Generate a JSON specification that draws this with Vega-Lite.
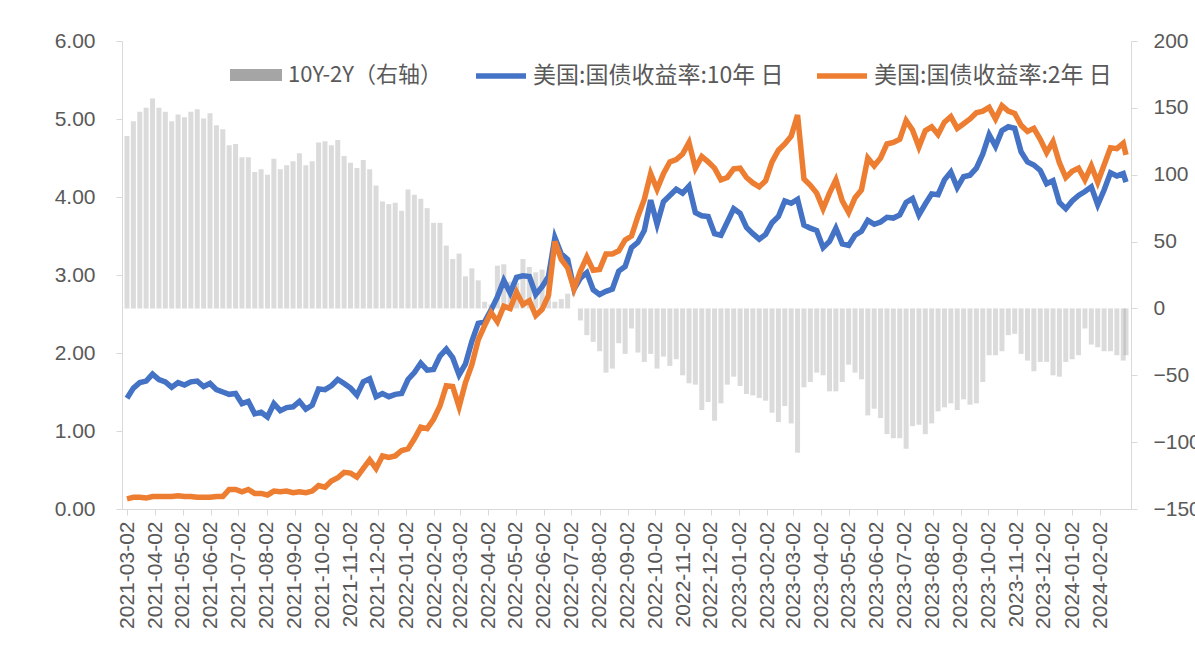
{
  "$schema": "https://vega.github.io/schema/vega-lite/v6.json",
  "width": 1009,
  "height": 468,
  "autosize": {"type": "none"},
  "padding": {"left": 122, "top": 41, "right": 64, "bottom": 144},
  "background": "white",
  "config": {
    "view": {"stroke": null},
    "font": "Liberation Sans",
    "axis": {"grid": false, "domainColor": "#d9d9d9", "tickColor": "#d9d9d9", "labelColor": "#595959", "tickSize": 6, "labelFontSize": 21, "labelFont": "Liberation Sans"}
  },
  "data": {"values": [
    {"d": "2021-03-02", "t10": 1.42, "t2": 0.13, "spread": 129},
    {"d": "2021-03-09", "t10": 1.55, "t2": 0.15, "spread": 140},
    {"d": "2021-03-16", "t10": 1.62, "t2": 0.15, "spread": 147},
    {"d": "2021-03-23", "t10": 1.64, "t2": 0.14, "spread": 150},
    {"d": "2021-03-30", "t10": 1.73, "t2": 0.16, "spread": 157},
    {"d": "2021-04-06", "t10": 1.66, "t2": 0.16, "spread": 150},
    {"d": "2021-04-13", "t10": 1.63, "t2": 0.16, "spread": 147},
    {"d": "2021-04-20", "t10": 1.56, "t2": 0.16, "spread": 140},
    {"d": "2021-04-27", "t10": 1.62, "t2": 0.17, "spread": 145},
    {"d": "2021-05-04", "t10": 1.59, "t2": 0.16, "spread": 143},
    {"d": "2021-05-11", "t10": 1.63, "t2": 0.16, "spread": 147},
    {"d": "2021-05-18", "t10": 1.64, "t2": 0.15, "spread": 149},
    {"d": "2021-05-25", "t10": 1.57, "t2": 0.15, "spread": 142},
    {"d": "2021-06-01", "t10": 1.61, "t2": 0.15, "spread": 146},
    {"d": "2021-06-08", "t10": 1.53, "t2": 0.16, "spread": 137},
    {"d": "2021-06-15", "t10": 1.50, "t2": 0.16, "spread": 134},
    {"d": "2021-06-22", "t10": 1.47, "t2": 0.25, "spread": 122},
    {"d": "2021-06-29", "t10": 1.48, "t2": 0.25, "spread": 123},
    {"d": "2021-07-06", "t10": 1.35, "t2": 0.22, "spread": 113},
    {"d": "2021-07-13", "t10": 1.38, "t2": 0.25, "spread": 113},
    {"d": "2021-07-20", "t10": 1.22, "t2": 0.20, "spread": 102},
    {"d": "2021-07-27", "t10": 1.24, "t2": 0.20, "spread": 104},
    {"d": "2021-08-03", "t10": 1.18, "t2": 0.18, "spread": 100},
    {"d": "2021-08-10", "t10": 1.35, "t2": 0.23, "spread": 112},
    {"d": "2021-08-17", "t10": 1.26, "t2": 0.22, "spread": 104},
    {"d": "2021-08-24", "t10": 1.30, "t2": 0.23, "spread": 107},
    {"d": "2021-08-31", "t10": 1.31, "t2": 0.21, "spread": 110},
    {"d": "2021-09-07", "t10": 1.38, "t2": 0.22, "spread": 116},
    {"d": "2021-09-14", "t10": 1.28, "t2": 0.21, "spread": 107},
    {"d": "2021-09-21", "t10": 1.33, "t2": 0.23, "spread": 110},
    {"d": "2021-09-28", "t10": 1.54, "t2": 0.30, "spread": 124},
    {"d": "2021-10-05", "t10": 1.53, "t2": 0.28, "spread": 125},
    {"d": "2021-10-12", "t10": 1.58, "t2": 0.36, "spread": 122},
    {"d": "2021-10-19", "t10": 1.66, "t2": 0.40, "spread": 126},
    {"d": "2021-10-26", "t10": 1.61, "t2": 0.47, "spread": 114},
    {"d": "2021-11-02", "t10": 1.55, "t2": 0.46, "spread": 109},
    {"d": "2021-11-09", "t10": 1.46, "t2": 0.41, "spread": 105},
    {"d": "2021-11-16", "t10": 1.63, "t2": 0.52, "spread": 111},
    {"d": "2021-11-23", "t10": 1.67, "t2": 0.63, "spread": 104},
    {"d": "2021-11-30", "t10": 1.44, "t2": 0.52, "spread": 92},
    {"d": "2021-12-07", "t10": 1.48, "t2": 0.68, "spread": 80},
    {"d": "2021-12-14", "t10": 1.44, "t2": 0.66, "spread": 78},
    {"d": "2021-12-21", "t10": 1.47, "t2": 0.68, "spread": 79},
    {"d": "2021-12-28", "t10": 1.48, "t2": 0.75, "spread": 73},
    {"d": "2022-01-04", "t10": 1.66, "t2": 0.77, "spread": 89},
    {"d": "2022-01-11", "t10": 1.75, "t2": 0.90, "spread": 85},
    {"d": "2022-01-18", "t10": 1.87, "t2": 1.05, "spread": 82},
    {"d": "2022-01-25", "t10": 1.78, "t2": 1.03, "spread": 75},
    {"d": "2022-02-01", "t10": 1.79, "t2": 1.15, "spread": 64},
    {"d": "2022-02-08", "t10": 1.96, "t2": 1.32, "spread": 64},
    {"d": "2022-02-15", "t10": 2.05, "t2": 1.58, "spread": 47},
    {"d": "2022-02-22", "t10": 1.94, "t2": 1.57, "spread": 37},
    {"d": "2022-03-01", "t10": 1.72, "t2": 1.31, "spread": 41},
    {"d": "2022-03-08", "t10": 1.86, "t2": 1.62, "spread": 24},
    {"d": "2022-03-15", "t10": 2.15, "t2": 1.85, "spread": 30},
    {"d": "2022-03-22", "t10": 2.38, "t2": 2.17, "spread": 21},
    {"d": "2022-03-29", "t10": 2.40, "t2": 2.35, "spread": 5},
    {"d": "2022-04-05", "t10": 2.55, "t2": 2.52, "spread": 3},
    {"d": "2022-04-12", "t10": 2.72, "t2": 2.40, "spread": 32},
    {"d": "2022-04-19", "t10": 2.93, "t2": 2.60, "spread": 33},
    {"d": "2022-04-26", "t10": 2.77, "t2": 2.57, "spread": 20},
    {"d": "2022-05-03", "t10": 2.97, "t2": 2.78, "spread": 19},
    {"d": "2022-05-10", "t10": 2.99, "t2": 2.62, "spread": 37},
    {"d": "2022-05-17", "t10": 2.98, "t2": 2.67, "spread": 31},
    {"d": "2022-05-24", "t10": 2.75, "t2": 2.48, "spread": 27},
    {"d": "2022-05-31", "t10": 2.85, "t2": 2.56, "spread": 29},
    {"d": "2022-06-07", "t10": 2.98, "t2": 2.74, "spread": 24},
    {"d": "2022-06-14", "t10": 3.48, "t2": 3.43, "spread": 5},
    {"d": "2022-06-21", "t10": 3.27, "t2": 3.20, "spread": 7},
    {"d": "2022-06-28", "t10": 3.20, "t2": 3.09, "spread": 11},
    {"d": "2022-07-05", "t10": 2.82, "t2": 2.82, "spread": 0},
    {"d": "2022-07-12", "t10": 2.96, "t2": 3.05, "spread": -9},
    {"d": "2022-07-19", "t10": 3.03, "t2": 3.23, "spread": -20},
    {"d": "2022-07-26", "t10": 2.81, "t2": 3.06, "spread": -25},
    {"d": "2022-08-02", "t10": 2.75, "t2": 3.07, "spread": -32},
    {"d": "2022-08-09", "t10": 2.79, "t2": 3.27, "spread": -48},
    {"d": "2022-08-16", "t10": 2.82, "t2": 3.27, "spread": -45},
    {"d": "2022-08-23", "t10": 3.05, "t2": 3.31, "spread": -26},
    {"d": "2022-08-30", "t10": 3.11, "t2": 3.45, "spread": -34},
    {"d": "2022-09-06", "t10": 3.35, "t2": 3.50, "spread": -15},
    {"d": "2022-09-13", "t10": 3.42, "t2": 3.75, "spread": -33},
    {"d": "2022-09-20", "t10": 3.57, "t2": 3.97, "spread": -40},
    {"d": "2022-09-27", "t10": 3.96, "t2": 4.30, "spread": -34},
    {"d": "2022-10-04", "t10": 3.65, "t2": 4.10, "spread": -45},
    {"d": "2022-10-11", "t10": 3.94, "t2": 4.30, "spread": -36},
    {"d": "2022-10-18", "t10": 4.02, "t2": 4.45, "spread": -43},
    {"d": "2022-10-25", "t10": 4.10, "t2": 4.48, "spread": -38},
    {"d": "2022-11-01", "t10": 4.05, "t2": 4.55, "spread": -50},
    {"d": "2022-11-08", "t10": 4.14, "t2": 4.70, "spread": -56},
    {"d": "2022-11-15", "t10": 3.80, "t2": 4.37, "spread": -57},
    {"d": "2022-11-22", "t10": 3.76, "t2": 4.52, "spread": -76},
    {"d": "2022-11-29", "t10": 3.75, "t2": 4.45, "spread": -70},
    {"d": "2022-12-06", "t10": 3.53, "t2": 4.37, "spread": -84},
    {"d": "2022-12-13", "t10": 3.51, "t2": 4.22, "spread": -71},
    {"d": "2022-12-20", "t10": 3.68, "t2": 4.25, "spread": -57},
    {"d": "2022-12-27", "t10": 3.85, "t2": 4.36, "spread": -51},
    {"d": "2023-01-03", "t10": 3.79, "t2": 4.37, "spread": -58},
    {"d": "2023-01-10", "t10": 3.61, "t2": 4.25, "spread": -64},
    {"d": "2023-01-17", "t10": 3.53, "t2": 4.18, "spread": -65},
    {"d": "2023-01-24", "t10": 3.46, "t2": 4.13, "spread": -67},
    {"d": "2023-01-31", "t10": 3.52, "t2": 4.21, "spread": -69},
    {"d": "2023-02-07", "t10": 3.67, "t2": 4.45, "spread": -78},
    {"d": "2023-02-14", "t10": 3.75, "t2": 4.60, "spread": -85},
    {"d": "2023-02-21", "t10": 3.95, "t2": 4.68, "spread": -73},
    {"d": "2023-02-28", "t10": 3.92, "t2": 4.78, "spread": -86},
    {"d": "2023-03-07", "t10": 3.97, "t2": 5.05, "spread": -108},
    {"d": "2023-03-14", "t10": 3.64, "t2": 4.23, "spread": -59},
    {"d": "2023-03-21", "t10": 3.60, "t2": 4.15, "spread": -55},
    {"d": "2023-03-28", "t10": 3.57, "t2": 4.05, "spread": -48},
    {"d": "2023-04-04", "t10": 3.35, "t2": 3.85, "spread": -50},
    {"d": "2023-04-11", "t10": 3.43, "t2": 4.05, "spread": -62},
    {"d": "2023-04-18", "t10": 3.60, "t2": 4.22, "spread": -62},
    {"d": "2023-04-25", "t10": 3.40, "t2": 3.95, "spread": -55},
    {"d": "2023-05-02", "t10": 3.38, "t2": 3.80, "spread": -42},
    {"d": "2023-05-09", "t10": 3.51, "t2": 3.99, "spread": -48},
    {"d": "2023-05-16", "t10": 3.56, "t2": 4.09, "spread": -53},
    {"d": "2023-05-23", "t10": 3.70, "t2": 4.50, "spread": -80},
    {"d": "2023-05-30", "t10": 3.65, "t2": 4.40, "spread": -75},
    {"d": "2023-06-06", "t10": 3.68, "t2": 4.50, "spread": -82},
    {"d": "2023-06-13", "t10": 3.74, "t2": 4.68, "spread": -94},
    {"d": "2023-06-20", "t10": 3.73, "t2": 4.70, "spread": -97},
    {"d": "2023-06-27", "t10": 3.77, "t2": 4.74, "spread": -97},
    {"d": "2023-07-04", "t10": 3.93, "t2": 4.98, "spread": -105},
    {"d": "2023-07-11", "t10": 3.98, "t2": 4.86, "spread": -88},
    {"d": "2023-07-18", "t10": 3.77, "t2": 4.64, "spread": -87},
    {"d": "2023-07-25", "t10": 3.91, "t2": 4.85, "spread": -94},
    {"d": "2023-08-01", "t10": 4.04, "t2": 4.90, "spread": -86},
    {"d": "2023-08-08", "t10": 4.03, "t2": 4.80, "spread": -77},
    {"d": "2023-08-15", "t10": 4.22, "t2": 4.96, "spread": -74},
    {"d": "2023-08-22", "t10": 4.32, "t2": 5.03, "spread": -71},
    {"d": "2023-08-29", "t10": 4.12, "t2": 4.88, "spread": -76},
    {"d": "2023-09-05", "t10": 4.26, "t2": 4.94, "spread": -68},
    {"d": "2023-09-12", "t10": 4.28, "t2": 5.00, "spread": -72},
    {"d": "2023-09-19", "t10": 4.37, "t2": 5.08, "spread": -71},
    {"d": "2023-09-26", "t10": 4.55, "t2": 5.10, "spread": -55},
    {"d": "2023-10-03", "t10": 4.80, "t2": 5.15, "spread": -35},
    {"d": "2023-10-10", "t10": 4.65, "t2": 5.00, "spread": -35},
    {"d": "2023-10-17", "t10": 4.85, "t2": 5.17, "spread": -32},
    {"d": "2023-10-24", "t10": 4.90, "t2": 5.10, "spread": -20},
    {"d": "2023-10-31", "t10": 4.88, "t2": 5.07, "spread": -19},
    {"d": "2023-11-07", "t10": 4.58, "t2": 4.92, "spread": -34},
    {"d": "2023-11-14", "t10": 4.45, "t2": 4.84, "spread": -39},
    {"d": "2023-11-21", "t10": 4.41, "t2": 4.88, "spread": -47},
    {"d": "2023-11-28", "t10": 4.34, "t2": 4.74, "spread": -40},
    {"d": "2023-12-05", "t10": 4.17, "t2": 4.57, "spread": -40},
    {"d": "2023-12-12", "t10": 4.21, "t2": 4.71, "spread": -50},
    {"d": "2023-12-19", "t10": 3.93, "t2": 4.44, "spread": -51},
    {"d": "2023-12-26", "t10": 3.85, "t2": 4.25, "spread": -40},
    {"d": "2024-01-02", "t10": 3.95, "t2": 4.33, "spread": -38},
    {"d": "2024-01-09", "t10": 4.02, "t2": 4.37, "spread": -35},
    {"d": "2024-01-16", "t10": 4.07, "t2": 4.22, "spread": -15},
    {"d": "2024-01-23", "t10": 4.13, "t2": 4.40, "spread": -27},
    {"d": "2024-01-30", "t10": 3.90, "t2": 4.19, "spread": -29},
    {"d": "2024-02-06", "t10": 4.09, "t2": 4.41, "spread": -32},
    {"d": "2024-02-13", "t10": 4.31, "t2": 4.63, "spread": -32},
    {"d": "2024-02-20", "t10": 4.27, "t2": 4.62, "spread": -35},
    {"d": "2024-02-27", "t10": 4.30, "t2": 4.69, "spread": -39},
    {"d": "2024-03-01", "t10": 4.19, "t2": 4.54, "spread": -35}
  ]},
  "encoding": {
    "x": {
      "field": "d", "type": "temporal",
      "scale": {"type": "utc", "domain": [{"year": 2021, "month": 3, "date": 2, "utc": true}, {"year": 2024, "month": 3, "date": 1, "utc": true}]},
      "axis": {
        "title": null, "format": "%Y-%m-%d", "labelAngle": 270, "labelFontSize": 21, "labelPadding": 6, "labelOverlap": false, "labelFlush": false,
        "values": [
          {"year": 2021, "month": 3, "date": 2, "utc": true}, {"year": 2021, "month": 4, "date": 2, "utc": true}, {"year": 2021, "month": 5, "date": 2, "utc": true},
          {"year": 2021, "month": 6, "date": 2, "utc": true}, {"year": 2021, "month": 7, "date": 2, "utc": true}, {"year": 2021, "month": 8, "date": 2, "utc": true},
          {"year": 2021, "month": 9, "date": 2, "utc": true}, {"year": 2021, "month": 10, "date": 2, "utc": true}, {"year": 2021, "month": 11, "date": 2, "utc": true},
          {"year": 2021, "month": 12, "date": 2, "utc": true}, {"year": 2022, "month": 1, "date": 2, "utc": true}, {"year": 2022, "month": 2, "date": 2, "utc": true},
          {"year": 2022, "month": 3, "date": 2, "utc": true}, {"year": 2022, "month": 4, "date": 2, "utc": true}, {"year": 2022, "month": 5, "date": 2, "utc": true},
          {"year": 2022, "month": 6, "date": 2, "utc": true}, {"year": 2022, "month": 7, "date": 2, "utc": true}, {"year": 2022, "month": 8, "date": 2, "utc": true},
          {"year": 2022, "month": 9, "date": 2, "utc": true}, {"year": 2022, "month": 10, "date": 2, "utc": true}, {"year": 2022, "month": 11, "date": 2, "utc": true},
          {"year": 2022, "month": 12, "date": 2, "utc": true}, {"year": 2023, "month": 1, "date": 2, "utc": true}, {"year": 2023, "month": 2, "date": 2, "utc": true},
          {"year": 2023, "month": 3, "date": 2, "utc": true}, {"year": 2023, "month": 4, "date": 2, "utc": true}, {"year": 2023, "month": 5, "date": 2, "utc": true},
          {"year": 2023, "month": 6, "date": 2, "utc": true}, {"year": 2023, "month": 7, "date": 2, "utc": true}, {"year": 2023, "month": 8, "date": 2, "utc": true},
          {"year": 2023, "month": 9, "date": 2, "utc": true}, {"year": 2023, "month": 10, "date": 2, "utc": true}, {"year": 2023, "month": 11, "date": 2, "utc": true},
          {"year": 2023, "month": 12, "date": 2, "utc": true}, {"year": 2024, "month": 1, "date": 2, "utc": true}, {"year": 2024, "month": 2, "date": 2, "utc": true}
        ]
      }
    }
  },
  "layer": [
    {
      "mark": {"type": "bar", "size": 5, "opacity": 0.4, "clip": true},
      "encoding": {
        "y": {"field": "spread", "type": "quantitative", "scale": {"domain": [-150, 200], "nice": false},
          "axis": {"orient": "right", "title": null, "values": [-150, -100, -50, 0, 50, 100, 150, 200], "labelPadding": 16}},
        "fill": {"datum": "10Y-2Y（右轴）", "type": "nominal", "scale": {"domain": ["10Y-2Y（右轴）"], "range": ["#a5a5a5"]},
          "legend": {"orient": "none", "legendX": 108, "legendY": 8, "title": null, "symbolType": "M-1,-0.23H1V0.23H-1Z", "symbolSize": 2704, "symbolOpacity": 1, "symbolStrokeWidth": 0,
            "labelFont": "Noto Sans CJK SC", "labelFontSize": 22, "labelColor": "#595959", "labelOffset": 6, "labelLimit": 500}}
      }
    },
    {
      "layer": [
        {
          "mark": {"type": "line", "strokeWidth": 5.5, "clip": true},
          "encoding": {
            "y": {"field": "t10", "type": "quantitative", "scale": {"domain": [0, 6], "nice": false},
              "axis": {"orient": "left", "title": null, "values": [0, 1, 2, 3, 4, 5, 6], "format": ".2f", "labelPadding": 21}},
            "stroke": {"datum": "美国:国债收益率:10年 日", "type": "nominal",
              "scale": {"domain": ["美国:国债收益率:10年 日", "美国:国债收益率:2年 日"], "range": ["#4472c4", "#ed7d31"]},
              "legend": {"orient": "none", "legendX": 351, "legendY": 7, "title": null, "direction": "horizontal", "columns": 2, "columnPadding": 22,
                "symbolType": "stroke", "symbolSize": 2500, "symbolStrokeWidth": 5.5,
                "labelFont": "Noto Sans CJK SC", "labelFontSize": 23, "labelColor": "#595959", "labelOffset": 4, "labelLimit": 500}}
          }
        },
        {
          "mark": {"type": "line", "strokeWidth": 5.5, "clip": true},
          "encoding": {
            "y": {"field": "t2", "type": "quantitative"},
            "stroke": {"datum": "美国:国债收益率:2年 日", "type": "nominal"}
          }
        }
      ]
    }
  ],
  "resolve": {"scale": {"y": "independent"}}
}
